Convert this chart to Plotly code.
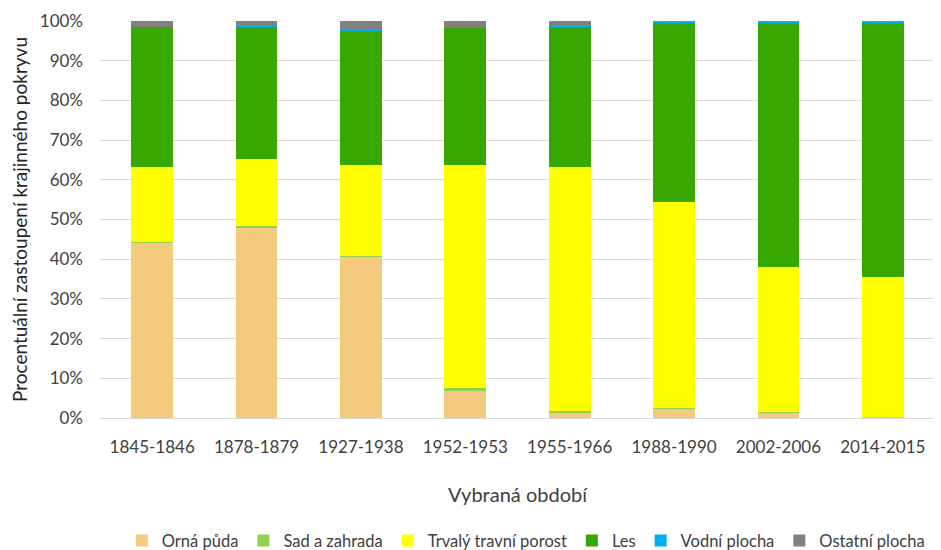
import plotly.graph_objects as go

periods = ["1845-1846", "1878-1879", "1927-1938", "1952-1953", "1955-1966", "1988-1990", "2002-2006", "2014-2015"]
orna_puda = [44.3, 48.1, 40.8, 6.9, 1.5, 2.3, 1.5, 0.2]
sad_zahrada = [0.1, 0.3, 0.1, 0.6, 0.3, 0.1, 0.1, 0.0]
trvaly_travni = [18.8, 16.9, 22.9, 56.3, 61.4, 51.9, 36.4, 35.4]
les = [35.3, 33.3, 33.9, 34.5, 35.4, 45.4, 61.7, 64.1]
vodni_plocha = [0.1, 0.3, 0.4, 0.3, 0.3, 0.3, 0.3, 0.3]
ostatni_plocha = [1.4, 1.1, 1.9, 1.4, 1.1, 0.0, 0.0, 0.0]

series = [
    ("Orná půda", orna_puda, "#F5C97E"),
    ("Sad a zahrada", sad_zahrada, "#92D050"),
    ("Trvalý travní porost", trvaly_travni, "#FFFF00"),
    ("Les", les, "#38A800"),
    ("Vodní plocha", vodni_plocha, "#00B0F0"),
    ("Ostatní plocha", ostatni_plocha, "#808080"),
]

FONT = "Lato, Open Sans, sans-serif"
fig = go.Figure()
for name, vals, color in series:
    fig.add_trace(go.Bar(
        x=periods, y=[v / 100 for v in vals], name=name,
        marker=dict(color=color, line=dict(width=0)),
    ))

# page body adds an 8px offset, so the figure is sized to fit the window
fig.update_layout(
    barmode="stack",
    bargap=0.6,
    width=933, height=542,
    margin=dict(l=92, r=6, t=13, b=132, autoexpand=False),
    plot_bgcolor="white", paper_bgcolor="white",
    font=dict(family=FONT, size=16, color="#404040"),
    showlegend=True,
    legend=dict(orientation="h", x=0.555, xanchor="center", xref="container",
                y=0.017, yanchor="middle", yref="container",
                font=dict(size=16.5, color="#404040"), traceorder="normal",
                itemwidth=30, tracegroupgap=0),
    xaxis=dict(
        title=dict(text="Vybraná období", font=dict(size=20, color="#404040"), standoff=31),
        showgrid=False, showline=True, linecolor="#d9d9d9", linewidth=1,
        ticks="", ticklabelstandoff=14, tickfont=dict(size=17, color="#404040"),
    ),
    yaxis=dict(
        title=dict(text="Procentuální zastoupení krajinného pokryvu", font=dict(size=19, color="#262626"), standoff=13),
        range=[0, 1], tickformat=".0%", dtick=0.1,
        showgrid=True, gridcolor="#d9d9d9", gridwidth=1,
        zeroline=False, ticks="", ticklabelstandoff=16, tickfont=dict(size=17, color="#404040"),
    ),
)

fig.write_html("out.html")
